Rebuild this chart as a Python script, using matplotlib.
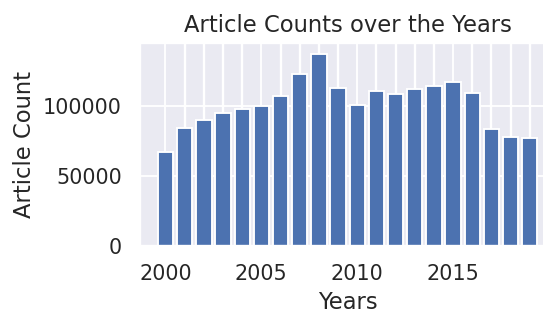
import matplotlib
matplotlib.use("Agg")
import matplotlib.pyplot as plt
from matplotlib.ticker import FixedLocator
import seaborn as sns

years = list(range(2000, 2020))
counts = [66700, 84000, 89800, 94600, 97600, 99500, 107100, 122400, 136700, 112400,
          100500, 110500, 108600, 111700, 113800, 116700, 108800, 83600, 77900, 76700]
xticks = [2000, 2005, 2010, 2015]
yticks = [0, 50000, 100000]

sns.set_theme()
dpi = 136
fig = plt.figure(figsize=(543 / dpi, 311 / dpi), dpi=dpi)
ax = fig.add_axes([140 / 543, 1 - 245.7 / 311, (555.2 - 140) / 543, (245.7 - 43.3) / 311])
ax.bar(years, counts, width=0.8, color="#4C72B0", edgecolor="white", linewidth=1.0)
ax.set_xlim(1998.67, 2020.33)
ax.set_ylim(0, max(counts) * 1.058)
ax.set_xticks(xticks)
ax.xaxis.set_minor_locator(FixedLocator(years))
ax.grid(which="minor", axis="x", color="white", linewidth=1.25)
ax.tick_params(which="minor", length=0)
ax.set_yticks(yticks)
ax.set_xlabel("Years")
ax.set_ylabel("Article Count")
ax.set_title("Article Counts over the Years")
fig.savefig("out.png", dpi=dpi)
